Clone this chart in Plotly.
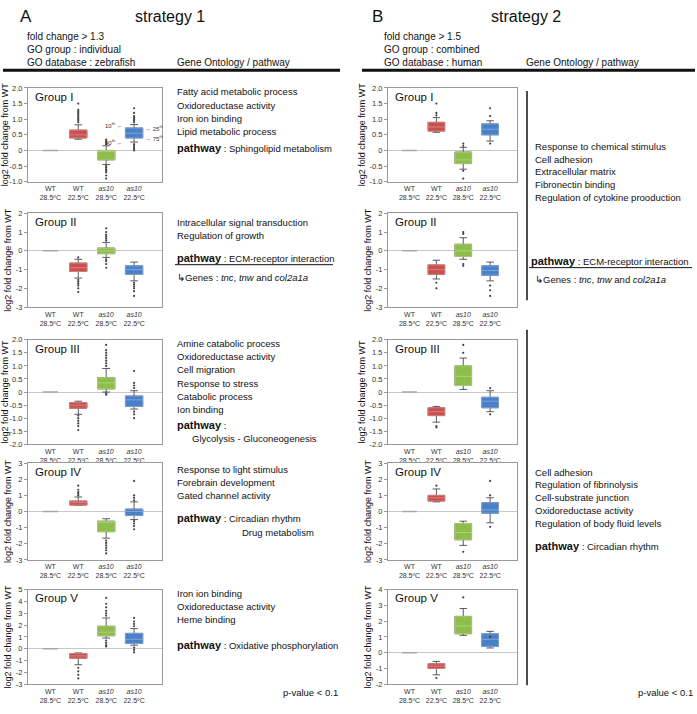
import plotly.graph_objects as go

W, H = 697, 714
FONT = "Arial, Liberation Sans, sans-serif"

CATEGORIES = ["WT<br>28.5ºC", "WT<br>22.5ºC", "<i>as10</i><br>28.5ºC", "<i>as10</i><br>22.5ºC"]
BOX_FILL = ["#c9504e", "#8fbd4b", "#4a80c8"]
BOX_EDGE = ["#e08b89", "#b6d686", "#88aee0"]

# ---- strategy 1 (A) ----
A1_q1 = [0.40, -0.30, 0.40]
A1_med = [0.50, -0.02, 0.55]
A1_q3 = [0.65, 0.00, 0.72]
A1_lo = [0.36, -0.45, 0.27]
A1_hi = [0.82, 0.15, 0.83]
A1_out = [[0.9, 0.95, 1.0, 1.05, 1.1, 1.15, 1.2, 1.25, 1.3, 1.5],
          [0.2, 0.25, 0.3, 0.35, -0.5, -0.55, -0.6, -0.65, -0.7, -0.8, -0.9],
          [0.9, 0.95, 1.0, 1.05, 1.1, 1.2, 1.35, 0.2, 0.15, 0.1, 0.05, 0.0]]

A2_q1 = [-1.10, -0.15, -1.25]
A2_med = [-0.90, 0.00, -1.00]
A2_q3 = [-0.65, 0.15, -0.80]
A2_lo = [-1.45, -0.35, -1.60]
A2_hi = [-0.45, 0.45, -0.60]
A2_out = [[-0.35, -1.55, -1.65, -1.75, -1.85, -2.0, -2.2],
          [0.55, 0.65, 0.75, 0.85, 1.0, 1.2, -0.45, -0.55, -0.7, -0.9],
          [-1.7, -1.8, -1.9, -2.0, -2.15, -2.4]]

A3_q1 = [-0.62, 0.12, -0.55]
A3_med = [-0.50, 0.35, -0.30]
A3_q3 = [-0.40, 0.55, -0.15]
A3_lo = [-0.85, 0.00, -0.65]
A3_hi = [-0.35, 0.90, 0.05]
A3_out = [[-0.9, -1.0, -1.1, -1.2, -1.3, -1.45],
          [1.0, 1.1, 1.2, 1.3, 1.4, 1.5, 1.6, 1.8, -0.05, -0.1],
          [0.15, 0.25, 0.35, 0.8, -0.75, -0.85, -1.0]]

A4_q1 = [0.40, -1.25, -0.25]
A4_med = [0.55, -0.65, 0.00]
A4_q3 = [0.65, -0.60, 0.15]
A4_lo = [0.40, -1.65, -0.50]
A4_hi = [0.90, -0.45, 0.60]
A4_out = [[1.0, 1.1, 1.2, 1.35, 1.6],
          [-1.8, -1.95, -2.1, -2.25, -2.4, -2.6],
          [0.7, 0.85, 1.0, 1.9, -0.6, -0.75, -0.9, -1.1]]

A5_q1 = [-0.80, 1.10, 0.45]
A5_med = [-0.60, 1.40, 0.80]
A5_q3 = [-0.40, 1.90, 1.30]
A5_lo = [-1.35, 0.90, 0.30]
A5_hi = [-0.35, 2.60, 1.70]
A5_out = [[-1.6, -1.9, -2.2, -2.5],
          [2.8, 3.0, 3.2, 3.5, 3.8, 4.3, 0.7, 0.5, 0.3, 0.2],
          [1.9, 2.1, 2.3, 2.6, 0.1, -0.1, -0.3]]

# ---- strategy 2 (B) ----
B1_q1 = [0.62, -0.42, 0.50]
B1_med = [0.75, -0.30, 0.68]
B1_q3 = [0.90, -0.05, 0.85]
B1_lo = [0.58, -0.60, 0.30]
B1_hi = [1.05, 0.10, 0.95]
B1_out = [[1.12, 1.2, 1.5], [0.15, 0.22, -0.65, -0.9], [1.1, 1.35, 0.22]]

B2_q1 = [-1.25, -0.30, -1.30]
B2_med = [-1.00, 0.00, -1.05]
B2_q3 = [-0.75, 0.35, -0.80]
B2_lo = [-1.50, -0.45, -1.60]
B2_hi = [-0.50, 0.70, -0.60]
B2_out = [[-1.7, -2.0], [0.9, 1.0, -0.7, -0.8], [-1.85, -2.1, -2.4]]

B3_q1 = [-0.90, 0.25, -0.60]
B3_med = [-0.75, 0.60, -0.35]
B3_q3 = [-0.60, 1.00, -0.20]
B3_lo = [-1.15, 0.10, -0.75]
B3_hi = [-0.55, 1.30, 0.05]
B3_out = [[-1.3, -1.35], [1.5, 1.8], [0.15, -0.85]]

B4_q1 = [0.65, -1.75, -0.10]
B4_med = [0.85, -1.30, 0.10]
B4_q3 = [1.00, -0.75, 0.55]
B4_lo = [0.60, -2.10, -0.70]
B4_hi = [1.40, -0.60, 0.85]
B4_out = [[1.6], [-2.5], [1.0, 1.9, -0.95]]

B5_q1 = [-1.00, 1.20, 0.40]
B5_med = [-0.85, 1.70, 0.85]
B5_q3 = [-0.70, 2.30, 1.20]
B5_lo = [-1.40, 1.10, 0.30]
B5_hi = [-0.55, 2.80, 1.35]
B5_out = [[-1.6], [3.5], [1.0]]

# y tick values per group
TICKS_I = [-1.0, -0.5, 0, 0.5, 1.0, 1.5, 2.0]
TICKS_II = [-3, -2, -1, 0, 1, 2]
TICKS_III = [-2.0, -1.5, -1.0, -0.5, 0, 0.5, 1.0, 1.5, 2.0]
TICKS_IV = [-3, -2, -1, 0, 1, 2, 3]
TICKS_VA = [-3, -2, -1, 0, 1, 2, 3, 4, 5]
TICKS_VB = [-2, -1, 0, 1, 2, 3, 4]

GROUPS = ["Group I", "Group II", "Group III", "Group IV", "Group V"]

# pixel layout of the panels
ROWS = [(85, 180), (212, 307), (340, 446), (465, 563), (593, 689)]
COL_A = (28, 162)
COL_B = (388, 517)

fig = go.Figure()


def fmt(v, ticks):
    if v == 0:
        return "0"
    if all(float(t).is_integer() for t in ticks):
        return str(int(v))
    return f"{v:.1f}"


def add_panel(n, col, row, q1, med, q3, lo, hi, out, ticks, label):
    sfx = "" if n == 1 else str(n)
    xa, ya = "x" + sfx, "y" + sfx
    # WT 28.5 is the reference: flat at zero
    fig.add_trace(go.Box(
        x=[0], q1=[0], median=[0], q3=[0], lowerfence=[0], upperfence=[0],
        width=0.55, line=dict(color="#a8a8a8", width=1.5), fillcolor="#a8a8a8",
        boxpoints=False, xaxis=xa, yaxis=ya, hoverinfo="skip",
    ))
    for i in range(3):
        pos = i + 1
        # whiskers
        fig.add_trace(go.Box(
            x=[pos], q1=[q1[i]], median=[med[i]], q3=[q3[i]],
            lowerfence=[lo[i]], upperfence=[hi[i]],
            width=0.62, whiskerwidth=0.45, boxpoints=False,
            line=dict(color="#333333", width=0.8), fillcolor=BOX_FILL[i],
            xaxis=xa, yaxis=ya, hoverinfo="skip",
        ))
        # coloured box
        fig.add_trace(go.Box(
            x=[pos], q1=[q1[i]], median=[med[i]], q3=[q3[i]],
            lowerfence=[q1[i]], upperfence=[q3[i]],
            width=0.62, whiskerwidth=0, boxpoints=False,
            line=dict(color=BOX_EDGE[i], width=0.8), fillcolor=BOX_FILL[i],
            xaxis=xa, yaxis=ya, hoverinfo="skip",
        ))
        fig.add_trace(go.Scatter(
            x=[pos] * len(out[i]), y=out[i], mode="markers",
            marker=dict(size=2.2, color="#444444"),
            xaxis=xa, yaxis=ya, hoverinfo="skip",
        ))

    fig.update_layout(**{
        "xaxis" + sfx: dict(
            domain=[col[0] / W, col[1] / W], anchor=ya, range=[-0.8, 4.0],
            tickvals=[0, 1, 2, 3], ticktext=CATEGORIES,
            tickfont=dict(size=7, color="#333333"),
            showline=True, mirror=True, linecolor="#9a9a9a", linewidth=1,
            showgrid=False, zeroline=False, ticks="",
        ),
        "yaxis" + sfx: dict(
            domain=[1 - row[1] / H, 1 - row[0] / H], anchor=xa,
            range=[min(ticks), max(ticks)],
            tickvals=ticks, ticktext=[fmt(t, ticks) for t in ticks],
            tickfont=dict(size=7.5, color="#333333"),
            ticks="outside", ticklen=3, tickcolor="#9a9a9a",
            showline=True, mirror=True, linecolor="#9a9a9a", linewidth=1,
            showgrid=False, zeroline=True, zerolinecolor="#c8c8c8", zerolinewidth=1,
            title=dict(text="log2 fold change from WT", font=dict(size=9), standoff=2),
        ),
    })
    fig.add_annotation(
        text=label, xref=xa + " domain", yref=ya + " domain", x=0.04, y=0.99,
        xanchor="left", yanchor="top", showarrow=False, font=dict(size=11.5),
    )
    return xa, ya


A_DATA = [
    (A1_q1, A1_med, A1_q3, A1_lo, A1_hi, A1_out, TICKS_I),
    (A2_q1, A2_med, A2_q3, A2_lo, A2_hi, A2_out, TICKS_II),
    (A3_q1, A3_med, A3_q3, A3_lo, A3_hi, A3_out, TICKS_III),
    (A4_q1, A4_med, A4_q3, A4_lo, A4_hi, A4_out, TICKS_IV),
    (A5_q1, A5_med, A5_q3, A5_lo, A5_hi, A5_out, TICKS_VA),
]
B_DATA = [
    (B1_q1, B1_med, B1_q3, B1_lo, B1_hi, B1_out, TICKS_I),
    (B2_q1, B2_med, B2_q3, B2_lo, B2_hi, B2_out, TICKS_II),
    (B3_q1, B3_med, B3_q3, B3_lo, B3_hi, B3_out, TICKS_III),
    (B4_q1, B4_med, B4_q3, B4_lo, B4_hi, B4_out, TICKS_IV),
    (B5_q1, B5_med, B5_q3, B5_lo, B5_hi, B5_out, TICKS_VB),
]

for k, d in enumerate(A_DATA):
    add_panel(k + 1, COL_A, ROWS[k], *d, GROUPS[k])
for k, d in enumerate(B_DATA):
    add_panel(k + 6, COL_B, ROWS[k], *d, GROUPS[k])

# percentile key on the A / Group I blue box
for val, txt_, side in [(A1_hi[2], "10<sup>th</sup> ←", -1), (A1_q3[2], "→ 25<sup>th</sup>", 1),
                        (A1_lo[2], "90<sup>th</sup> ←", -1), (A1_q1[2], "→ 75<sup>th</sup>", 1)]:
    fig.add_annotation(
        text=txt_, xref="x", yref="y", x=3 + side * 0.33, y=val,
        xanchor="left" if side > 0 else "right", yanchor="middle",
        showarrow=False, font=dict(size=6, color="#333333"),
    )


def txt(x, y, text, size=9.5, anchor="left"):
    fig.add_annotation(
        text=text, xref="paper", yref="paper", x=x / W, y=1 - y / H,
        xanchor=anchor, yanchor="middle", showarrow=False,
        font=dict(size=size, color="#111111"),
    )


def line(x0, y0, x1, y1, width=1):
    fig.add_shape(type="line", xref="paper", yref="paper",
                  x0=x0 / W, y0=1 - y0 / H, x1=x1 / W, y1=1 - y1 / H,
                  line=dict(color="#111111", width=width))


PW = "<span style='font-size:11px'><b>pathway</b></span>"

# headers
txt(18, 13, "A", 17)
txt(170, 13, "strategy 1", 16, "center")
txt(25, 33, "fold change > 1.3", 10)
txt(25, 46, "GO group : individual", 10)
txt(25, 59, "GO database : zebrafish", 10)
txt(175, 59, "Gene Ontology / pathway", 10)
line(3, 67, 340, 67, 3)

txt(370, 13, "B", 17)
txt(526, 13, "strategy 2", 16, "center")
txt(382, 33, "fold change > 1.5", 10)
txt(382, 46, "GO group : combined", 10)
txt(382, 59, "GO database : human", 10)
txt(524, 59, "Gene Ontology / pathway", 10)
line(362, 67, 695, 67, 3)

# A text column
for i, s in enumerate(["Fatty acid metabolic process", "Oxidoreductase activity",
                       "Iron ion binding", "Lipid metabolic process"]):
    txt(175, 89 + 13.5 * i, s)
txt(175, 146, PW + " : Sphingolipid metabolism")

txt(175, 221, "Intracellular signal transduction")
txt(175, 234, "Regulation of growth")
txt(175, 257, PW + " : ECM-receptor interaction")
line(175, 264, 333, 264, 1)
txt(175, 277, "↳Genes : <i>tnc</i>, <i>tnw</i> and <i>col2a1a</i>")

for i, s in enumerate(["Amine catabolic process", "Oxidoreductase activity", "Cell migration",
                       "Response to stress", "Catabolic process", "Ion binding"]):
    txt(175, 344 + 13.3 * i, s)
txt(175, 426, PW + " :")
txt(190, 440, "Glycolysis - Gluconeogenesis")

for i, s in enumerate(["Response to light stimulus", "Forebrain development",
                       "Gated channel activity"]):
    txt(175, 471 + 13.3 * i, s)
txt(175, 521, PW + " : Circadian rhythm")
txt(240, 535, "Drug metabolism")

for i, s in enumerate(["Iron ion binding", "Oxidoreductase activity", "Heme binding"]):
    txt(175, 597 + 13.3 * i, s)
txt(175, 649, PW + " : Oxidative phosphorylation")

txt(340, 697, "p-value < 0.1", 9.5, "right")

# B text column
line(527, 88, 527, 300, 1.5)
for i, s in enumerate(["Response to chemical stimulus", "Cell adhesion", "Extracellular matrix",
                       "Fibronectin binding", "Regulation of cytokine prooduction"]):
    txt(533, 144 + 13 * i, s)
txt(529, 260, PW + " : ECM-receptor interaction")
line(529, 267, 692, 267, 1)
txt(533, 279, "↳Genes : <i>tnc</i>, <i>tnw</i> and <i>col2a1a</i>")

line(527, 330, 527, 690, 1.5)
for i, s in enumerate(["Cell adhesion", "Regulation of fibrinolysis", "Cell-substrate junction",
                       "Oxidoreductase activity", "Regulation of body fluid levels"]):
    txt(533, 474 + 13 * i, s)
txt(533, 549, PW + " : Circadian rhythm")

txt(695, 697, "p-value < 0.1", 9.5, "right")

fig.update_layout(
    width=W, height=H,
    margin=dict(l=0, r=0, t=0, b=0),
    paper_bgcolor="white", plot_bgcolor="white",
    font=dict(family=FONT, color="#111111"),
    showlegend=False, boxmode="overlay",
)

# the page body has a default 8px margin; drop it so the figure fills the window
fig.write_html("out.html", config={"displayModeBar": False},
               post_script="document.body.style.margin='0px';")
